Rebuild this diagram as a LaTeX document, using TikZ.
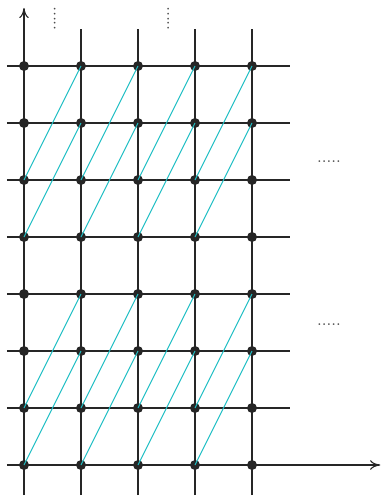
\documentclass[tikz,border=0pt]{standalone}
\usepackage{xcolor}
\usepackage{tikz}
\usetikzlibrary{arrows.meta}
\definecolor{linkcyan}{RGB}{30,190,195}
\tikzset{
    gridline/.style={
        line width=0.55pt,
        black!85
    },
    axisline/.style={
        line width=0.55pt,
        black!85,
        -{To[length=1.8mm,width=1.7mm]}
    },
    latticept/.style={
        circle,
        fill=black!85,
        inner sep=0pt,
        minimum size=1.75mm
    },
    link/.style={
        linkcyan,
        line width=0.5pt
    },
    morebox/.style={
        font=\footnotesize,
        inner sep=0pt,
        text=black!70
    }
}

\begin{document}
\begin{tikzpicture}
        \useasboundingbox (-0.421,-0.561) rectangle (6.281,8.158);

        % axes
        \draw[axisline] (-0.3,0) -- (6.25,0);
        \draw[axisline] (0,-0.53) -- (0,8.02);

        % grid
        \foreach \j in {1,...,7}
            \draw[gridline] (-0.3,\j) -- (4.67,\j);
        \foreach \i in {1,...,4}
            \draw[gridline] (\i,-0.53) -- (\i,7.65);

        % lattice points
        \foreach \i in {0,...,4}
            \foreach \j in {0,...,7}
                \node[latticept] (p-\i-\j) at (\i,\j) {};

        % links
        \foreach \i/\k in {0/1,1/2,2/3,3/4}
            \foreach \j/\m in {0/2,1/3,4/6,5/7}
                \draw[link] (p-\i-\j.center) -- (p-\k-\m.center);

        % continuation marks
        \node[morebox, rotate=90] (up1) at (0.54,7.83) {.....};
        \node[morebox, rotate=90] (up2) at (2.53,7.83) {.....};
        \node[morebox] (right1) at (5.35,5.32) {.....};
        \node[morebox] (right2) at (5.35,2.46) {.....};
    \end{tikzpicture}
\end{document}
